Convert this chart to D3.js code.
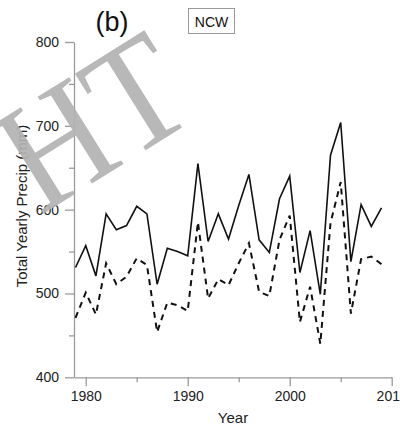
<!DOCTYPE html>
<html>
<head>
<meta charset="utf-8">
<script src="https://cdn.jsdelivr.net/npm/d3@7"></script>
<style>
  body { margin: 0; background: #fff; }
  svg { display: block; font-family: "Liberation Sans", Arial, sans-serif; }
</style>
</head>
<body>
<div id="chart"></div>
<script>
var years = d3.range(1979, 2010);
var solidVals = [531, 557, 521, 595, 576, 581, 604, 595, 511, 554, 550, 545, 655, 562, 595, 565,
                 605, 642, 564, 549, 613, 640, 525, 575, 499, 665, 704, 538, 606, 580, 602];
var dashedVals = [471, 501, 475, 536, 511, 520, 542, 534, 454, 489, 486, 479, 585, 494, 517, 510,
                  536, 560, 502, 497, 564, 593, 466, 508, 440, 584, 633, 476, 541, 544, 535];
var yTicks = [400, 500, 600, 700, 800];
var yMinor = [450, 550, 650, 750];
var xTicks = [1980, 1990, 2000, 2010];
var xMinor = [1985, 1995, 2005];

var width = 400, height = 428;
var axisColor = "#9a9a9a";

var svg = d3.select("#chart").append("svg")
    .attr("width", width)
    .attr("height", height);

var x = d3.scaleLinear().domain([1978.85, 2010]).range([74, 391.7]);
var y = d3.scaleLinear().domain([400, 800]).range([377.3, 42]);

// y axis
var yAxis = svg.append("g").attr("transform", "translate(74,0)")
    .call(d3.axisLeft(y).tickValues(yTicks).tickSize(9).tickPadding(6).tickSizeOuter(0));
yAxis.append("g").call(d3.axisLeft(y).tickValues(yMinor).tickSize(5).tickFormat("").tickSizeOuter(0))
    .select(".domain").remove();

// x axis
var xAxis = svg.append("g").attr("transform", "translate(0,377.3)")
    .call(d3.axisBottom(x).tickValues(xTicks).tickSize(9).tickPadding(5).tickFormat(d3.format("d")).tickSizeOuter(0));
xAxis.append("g").call(d3.axisBottom(x).tickValues(xMinor).tickSize(5).tickFormat("").tickSizeOuter(0))
    .select(".domain").remove();

svg.selectAll(".domain, .tick line").attr("stroke", axisColor).attr("stroke-width", 1.3);
svg.selectAll(".tick text")
    .attr("fill", "#222")
    .style("font-size", "14px");

// lines
var line = function (vals) {
    return d3.line()
        .x(function (d, i) { return x(years[i]); })
        .y(function (d) { return y(d); })(vals);
};

svg.append("path")
    .attr("d", line(dashedVals))
    .attr("fill", "none")
    .attr("stroke", "#111")
    .attr("stroke-width", 2)
    .attr("stroke-dasharray", "6,5");

svg.append("path")
    .attr("d", line(solidVals))
    .attr("fill", "none")
    .attr("stroke", "#111")
    .attr("stroke-width", 1.6)
    .attr("stroke-linejoin", "miter");

// labels
svg.append("text")
    .attr("transform", "translate(27,206) rotate(-90)")
    .attr("text-anchor", "middle")
    .attr("fill", "#222")
    .style("font-size", "15px")
    .text("Total Yearly Precip (mm)");

svg.append("text")
    .attr("x", 233).attr("y", 423)
    .attr("text-anchor", "middle")
    .attr("fill", "#222")
    .style("font-size", "15px")
    .text("Year");

svg.append("text")
    .attr("x", 112).attr("y", 31)
    .attr("text-anchor", "middle")
    .attr("fill", "#111")
    .style("font-size", "27px")
    .text("(b)");

svg.append("rect")
    .attr("x", 188.5).attr("y", 8.5)
    .attr("width", 46).attr("height", 25)
    .attr("fill", "#fff")
    .attr("stroke", "#999")
    .attr("stroke-width", 1);

svg.append("text")
    .attr("x", 211.5).attr("y", 27)
    .attr("text-anchor", "middle")
    .attr("fill", "#111")
    .style("font-size", "14px")
    .text("NCW");

// watermark
svg.append("text")
    .attr("transform", "translate(40,216) rotate(-32) scale(1,1.1)")
    .attr("fill", "#b3b3b3")
    .attr("opacity", 0.92)
    .style("font-family", "'Liberation Serif', 'DejaVu Serif', serif")
    .style("font-size", "142px")
    .text("HT");
</script>
</body>
</html>
